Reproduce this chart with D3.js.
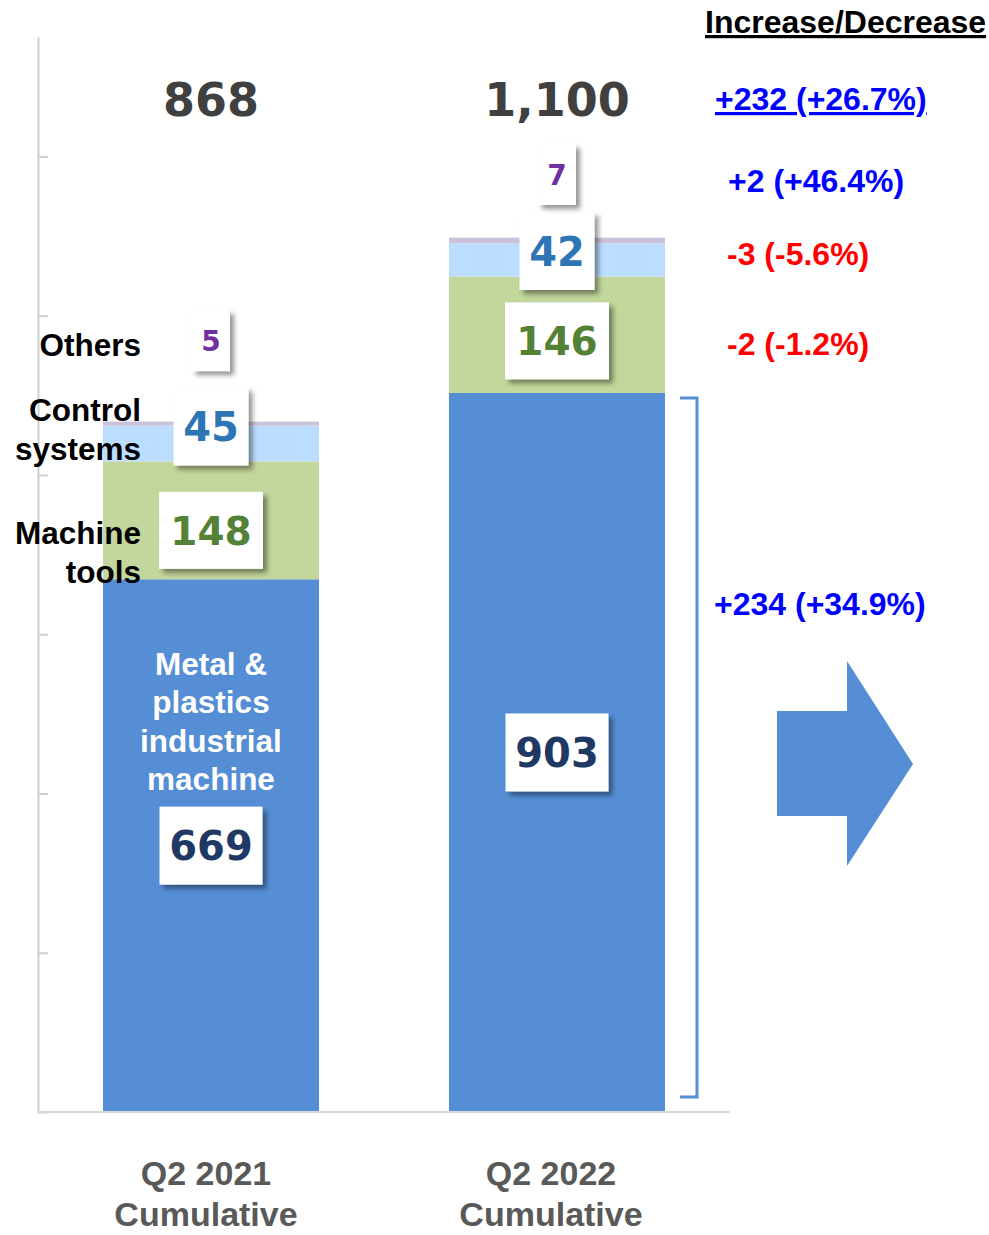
<!DOCTYPE html>
<html>
<head>
<meta charset="utf-8">
<script src="https://cdn.jsdelivr.net/npm/d3@7"></script>
<style>
  html, body { margin: 0; padding: 0; background: #fff; }
  svg { display: block; }
</style>
</head>
<body>
<svg id="chart" width="989" height="1235"></svg>
<script>
// ---- data ----
const categories = ["Q2 2021 Cumulative", "Q2 2022 Cumulative"];
const categoryLines = [["Q2 2021", "Cumulative"], ["Q2 2022", "Cumulative"]];
const seriesKeys = ["metal", "machine", "control", "others"];
const seriesNameLines = [
  ["Metal &", "plastics", "industrial", "machine"],
  ["Machine", "tools"],
  ["Control", "systems"],
  ["Others"]
];
const metalValues   = [669, 903];
const machineValues = [148, 146];
const controlValues = [45, 42];
const otherValues   = [5, 7];
const totalValues   = [868, 1100];
// year-on-year change: total, others, control, machine, metal
const changeAbs = [232, 2, -3, -2, 234];
const changePct = [26.7, 46.4, -5.6, -1.2, 34.9];
const yTickValues = [0, 200, 400, 600, 800, 1000, 1200];

// ---- styling ----
const fillColors  = { metal: "#558ED5", machine: "#C3D69B", control: "#BBDDFF", others: "#CCC1DA" };
const labelColors = { metal: "#1F3864", machine: "#538135", control: "#2E75B6", others: "#7030A0" };
const boxSize     = { metal: [103, 78], machine: [104, 77], control: [75, 78], others: [38, 61] };
const labelFont   = { metal: 40, machine: 39, control: 40, others: 28 };
// vertical shift of each value box from its segment's middle, per category
const boxShift = {
  metal:   [0, 0],
  machine: [10, 6],
  control: [-17, -9],
  others:  [-83, -66]
};
const numFont  = "'DejaVu Sans', Verdana, sans-serif";
const textFont = "'Liberation Sans', Arial, sans-serif";

// plain hyphen for negative numbers
const fmt = d3.formatLocale({ decimal: ".", thousands: ",", grouping: [3], currency: ["", ""], minus: "-" });
const fmtComma = fmt.format(",");
const fmtPct = fmt.format("+.1f");
const fmtAbs = fmt.format("+d");

const svg = d3.select("#chart");
const defs = svg.append("defs");
const shadow = defs.append("filter").attr("id", "boxShadow")
  .attr("x", "-20%").attr("y", "-20%").attr("width", "150%").attr("height", "150%");
shadow.append("feDropShadow")
  .attr("dx", 4).attr("dy", 4).attr("stdDeviation", 2.5)
  .attr("flood-color", "#000").attr("flood-opacity", 0.42);

// ---- scales ----
const x = d3.scaleBand().domain(categories).range([38, 730])
  .paddingInner(0.3757).paddingOuter(0.18785);
const y = d3.scaleLinear().domain([0, 1350]).range([1112, 37]);

// ---- axes ----
const yAxis = svg.append("g").attr("transform", "translate(38,0)")
  .call(d3.axisLeft(y).tickValues(yTickValues).tickSizeInner(-10).tickSizeOuter(0).tickFormat(""));
yAxis.select(".domain").attr("stroke", "#D0D0D0").attr("stroke-width", 2);
yAxis.selectAll(".tick line").attr("stroke", "#D0D0D0").attr("stroke-width", 2);

// ---- stacked bars ----
const rows = categories.map((c, i) => ({
  category: c,
  metal: metalValues[i], machine: machineValues[i],
  control: controlValues[i], others: otherValues[i]
}));
const stacked = d3.stack().keys(seriesKeys)(rows);

svg.append("g").selectAll("g").data(stacked).join("g")
  .attr("fill", d => fillColors[d.key])
  .selectAll("rect").data(d => d).join("rect")
  .attr("x", d => x(d.data.category))
  .attr("width", x.bandwidth())
  .attr("y", d => y(d[1]))
  .attr("height", d => y(d[0]) - y(d[1]));

// baseline
svg.append("line")
  .attr("x1", 37).attr("x2", 730)
  .attr("y1", y(0)).attr("y2", y(0))
  .attr("stroke", "#D9D9D9").attr("stroke-width", 2);

// ---- white text of the main segment ----
const metalLabel = svg.append("text")
  .attr("text-anchor", "middle")
  .attr("font-family", textFont).attr("font-weight", "bold").attr("font-size", 31.5)
  .attr("fill", "#fff");
seriesNameLines[0].forEach((line, j) => {
  metalLabel.append("tspan")
    .attr("x", x(categories[0]) + x.bandwidth() / 2)
    .attr("y", 675 + j * 38.3)
    .text(line);
});

// ---- series names on the left ----
const nameBaselines = { machine: 544, control: 421, others: 356 };
[1, 2, 3].forEach(s => {
  const key = seriesKeys[s];
  const t = svg.append("text")
    .attr("text-anchor", "end")
    .attr("font-family", textFont).attr("font-weight", "bold").attr("font-size", 31.5)
    .attr("fill", "#000");
  seriesNameLines[s].forEach((line, j) => {
    t.append("tspan").attr("x", 141).attr("y", nameBaselines[key] + j * 39).text(line);
  });
});

// ---- value boxes ----
stacked.forEach(series => {
  const key = series.key;
  const [bw, bh] = boxSize[key];
  series.forEach((d, i) => {
    const cx = x(d.data.category) + x.bandwidth() / 2;
    const cy = (y(d[0]) + y(d[1])) / 2 + boxShift[key][i];
    const g = svg.append("g").attr("transform", `translate(${cx},${cy})`);
    g.append("rect")
      .attr("x", -bw / 2).attr("y", -bh / 2)
      .attr("width", bw).attr("height", bh)
      .attr("fill", "#fff").attr("filter", "url(#boxShadow)");
    g.append("text")
      .attr("text-anchor", "middle")
      .attr("y", labelFont[key] * 0.365)
      .attr("font-family", numFont).attr("font-weight", "bold")
      .attr("font-size", labelFont[key])
      .attr("fill", labelColors[key])
      .text(fmtComma(d.data[key]));
  });
});

// ---- totals ----
svg.append("g").selectAll("text").data(categories).join("text")
  .attr("x", c => x(c) + x.bandwidth() / 2)
  .attr("y", 116)
  .attr("text-anchor", "middle")
  .attr("font-family", numFont).attr("font-weight", "bold").attr("font-size", 46)
  .attr("fill", "#404040")
  .text((c, i) => fmtComma(totalValues[i]));

// ---- category labels ----
const catShift = [[-5, 0], [-6, 0]];
categories.forEach((c, i) => {
  const t = svg.append("text")
    .attr("text-anchor", "middle")
    .attr("font-family", textFont).attr("font-weight", "bold").attr("font-size", 34)
    .attr("fill", "#595959");
  categoryLines[i].forEach((line, j) => {
    t.append("tspan")
      .attr("x", x(c) + x.bandwidth() / 2 + catShift[i][0])
      .attr("y", 1185 + catShift[i][1] + j * 41)
      .text(line);
  });
});

// ---- change column ----
svg.append("text")
  .attr("x", 705).attr("y", 33)
  .attr("font-family", textFont).attr("font-weight", "bold").attr("font-size", 32)
  .attr("fill", "#000")
  .style("text-decoration", "underline")
  .text("Increase/Decrease");

const changeX = [715, 728, 727, 727, 714];
const changeY = [110, 192, 265, 355, 615];
changeAbs.forEach((v, i) => {
  const t = svg.append("text")
    .attr("x", changeX[i]).attr("y", changeY[i])
    .attr("font-family", textFont).attr("font-weight", "bold").attr("font-size", 32)
    .attr("fill", v >= 0 ? "#0000FF" : "#FF0000")
    .text(`${fmtAbs(v)} (${fmtPct(changePct[i])}%)`);
  if (i === 0) t.style("text-decoration", "underline");
});

// ---- bracket alongside the main segment of the latest bar ----
const bx = 697;
const bTop = y(metalValues[1]) + 5;
const bBot = y(0) - 15;
svg.append("path")
  .attr("d", `M${bx - 17},${bTop} L${bx},${bTop} L${bx},${bBot} L${bx - 17},${bBot}`)
  .attr("fill", "none").attr("stroke", "#558ED5").attr("stroke-width", 3);

// ---- arrow ----
svg.append("path")
  .attr("d", "M777,711 L847,711 L847,661 L913,764 L847,866 L847,816 L777,816 Z")
  .attr("fill", "#558ED5");
</script>
</body>
</html>
